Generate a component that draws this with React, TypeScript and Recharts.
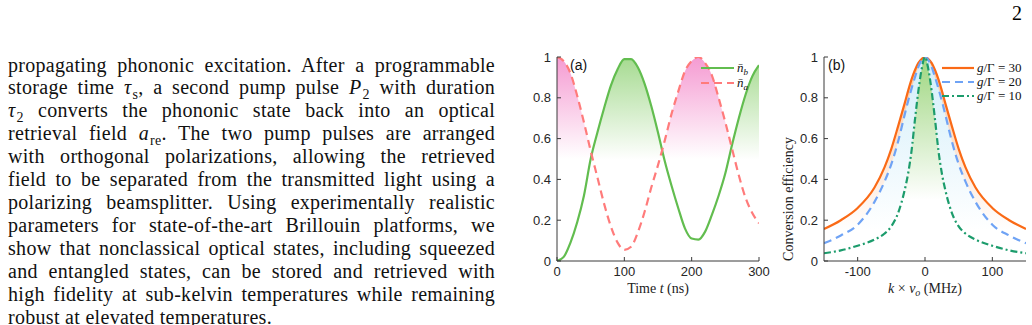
import React from "react";
import { ComposedChart, Area, Line, XAxis, YAxis, Legend } from "recharts";

// panel (a): populations vs time
const timeNs = [0, 10, 20, 30, 40, 50, 60, 70, 80, 90, 100, 110, 120, 130, 140, 150, 160, 170, 180, 190, 200, 210, 220, 230, 240, 250, 260, 270, 280, 290, 300];
const phononPop = [0, 0.02, 0.09, 0.19, 0.32, 0.5, 0.63, 0.75, 0.86, 0.94, 0.99, 0.99, 0.95, 0.87, 0.76, 0.63, 0.49, 0.37, 0.26, 0.16, 0.11, 0.105, 0.144, 0.226, 0.32, 0.43, 0.57, 0.7, 0.815, 0.905, 0.96];
const photonPop = [1, 0.98, 0.92, 0.81, 0.68, 0.54, 0.41, 0.28, 0.17, 0.09, 0.055, 0.07, 0.14, 0.24, 0.36, 0.47, 0.59, 0.72, 0.83, 0.93, 0.98, 1, 0.97, 0.91, 0.8, 0.68, 0.55, 0.42, 0.31, 0.235, 0.185];
const timeTicks = [0, 100, 200, 300];
const unitTicks = [0, 0.2, 0.4, 0.6, 0.8, 1];

// panel (b): conversion efficiency vs k*v_o
const detuning = [-150, -125, -100, -75, -60, -50, -40, -30, -25, -20, -15, -10, -5, 0, 5, 10, 15, 20, 25, 30, 40, 50, 60, 75, 100, 125, 150];
const eff30 = [0.157, 0.2, 0.26, 0.36, 0.46, 0.55, 0.66, 0.775, 0.835, 0.89, 0.935, 0.97, 0.99, 1, 0.99, 0.97, 0.935, 0.89, 0.835, 0.775, 0.66, 0.55, 0.46, 0.36, 0.26, 0.2, 0.157];
const eff20 = [0.087, 0.125, 0.178, 0.29, 0.39, 0.475, 0.585, 0.72, 0.785, 0.845, 0.9, 0.95, 0.985, 1, 0.985, 0.95, 0.9, 0.845, 0.785, 0.72, 0.585, 0.475, 0.39, 0.29, 0.178, 0.125, 0.087];
const eff10 = [0.038, 0.052, 0.075, 0.105, 0.135, 0.17, 0.235, 0.35, 0.43, 0.54, 0.69, 0.83, 0.94, 1, 0.94, 0.83, 0.69, 0.54, 0.43, 0.35, 0.235, 0.17, 0.135, 0.105, 0.075, 0.052, 0.038];
const detuningTicks = [-100, 0, 100];

const popData = timeNs.map((t, i) => ({ t, nb: phononPop[i], na: photonPop[i] }));
const effData = detuning.map((k, i) => ({ k, g30: eff30[i], g20: eff20[i], g10: eff10[i] }));

const SERIF = '"Liberation Serif", "Times New Roman", serif';
const SANS = '"Liberation Sans", Arial, sans-serif';
const AXIS = "#3a3a3a";
const tickStyle = { fill: "#262626", fontSize: 13, fontFamily: SANS };

function Sub({ children }: { children: React.ReactNode }) {
  return <span style={{ fontSize: "0.7em", position: "relative", top: "0.3em", marginLeft: 1 }}>{children}</span>;
}

const paragraph: React.ReactNode[] = [
  "propagating phononic excitation. After a programmable",
  <>storage time <i>τ</i><Sub>s</Sub>, a second pump pulse <i>P</i><Sub>2</Sub> with duration</>,
  <><i>τ</i><Sub>2</Sub> converts the phononic state back into an optical</>,
  <>retrieval field <i>a</i><Sub>re</Sub>. The two pump pulses are arranged</>,
  "with orthogonal polarizations, allowing the retrieved",
  "field to be separated from the transmitted light using a",
  "polarizing beamsplitter. Using experimentally realistic",
  "parameters for state-of-the-art Brillouin platforms, we",
  "show that nonclassical optical states, including squeezed",
  "and entangled states, can be stored and retrieved with",
  "high fidelity at sub-kelvin temperatures while remaining",
  "robust at elevated temperatures.",
];

type Row = { label: React.ReactNode; color: string; dash?: string };

function LegendRows({ rows, lineW, rowH }: { rows: Row[]; lineW: number; rowH: number }) {
  return (
    <div style={{ fontFamily: SERIF, fontSize: 13, color: "#111" }}>
      {rows.map((r, i) => (
        <div key={i} style={{ display: "flex", alignItems: "center", height: rowH, whiteSpace: "nowrap" }}>
          <svg width={lineW} height={8}>
            <line x1={0} y1={4} x2={lineW} y2={4} stroke={r.color} strokeWidth={2.2} strokeDasharray={r.dash} />
          </svg>
          <span style={{ marginLeft: 3 }}>{r.label}</span>
        </div>
      ))}
    </div>
  );
}

const nbar = (sub: string) => (
  <span style={{ fontStyle: "italic" }}>
    {"n\u0304"}
    <span style={{ fontSize: 9, position: "relative", top: 3 }}>{sub}</span>
  </span>
);

const ratio = (v: string) => (
  <span>
    <i>g</i>/Γ = {v}
  </span>
);

function boxAxes(xKey: string, xDomain: number[], xTicks: number[]) {
  return [
    <XAxis key="xb" xAxisId={0} dataKey={xKey} type="number" domain={xDomain} ticks={xTicks} allowDataOverflow height={36} stroke={AXIS} tick={tickStyle} tickSize={-4} tickMargin={10} />,
    <XAxis key="xt" xAxisId="top" orientation="top" type="number" domain={xDomain} ticks={xTicks} allowDataOverflow height={0} stroke={AXIS} tick={false} tickSize={-4} />,
    <YAxis key="yl" yAxisId={0} type="number" domain={[0, 1]} ticks={unitTicks} allowDataOverflow width={40} stroke={AXIS} tick={tickStyle} tickSize={-4} tickMargin={10} />,
    <YAxis key="yr" yAxisId="right" orientation="right" type="number" domain={[0, 1]} ticks={unitTicks} allowDataOverflow width={0} stroke={AXIS} tick={false} tickSize={-4} />,
  ];
}

function PanelA() {
  return (
    <ComposedChart width={260} height={270} data={popData} margin={{ top: 17, right: 11, bottom: 13, left: 7 }}>
      <defs>
        <linearGradient id="pinkFill" x1="0" y1="0" x2="0" y2="1">
          <stop offset="0" stopColor="#f59bd2" />
          <stop offset="0.5" stopColor="#ffffff" />
        </linearGradient>
        <linearGradient id="greenFill" x1="0" y1="0" x2="0" y2="1">
          <stop offset="0" stopColor="#a7db92" />
          <stop offset="0.5" stopColor="#ffffff" />
        </linearGradient>
      </defs>
      <Area type="monotone" dataKey="na" stroke="none" fill="url(#pinkFill)" fillOpacity={1} isAnimationActive={false} />
      <Area type="monotone" dataKey="nb" stroke="none" fill="url(#greenFill)" fillOpacity={1} isAnimationActive={false} />
      <Line type="monotone" dataKey="nb" stroke="#62bd4f" strokeWidth={2.2} dot={false} isAnimationActive={false} />
      <Line type="monotone" dataKey="na" stroke="#ff7b7b" strokeWidth={2.2} strokeDasharray="8 5" dot={false} isAnimationActive={false} />
      {boxAxes("t", [0, 300], timeTicks)}
      <Legend
        layout="vertical"
        verticalAlign="middle"
        align="center"
        wrapperStyle={{ left: 191, top: 20.5, width: "auto" }}
        content={() => (
          <LegendRows
            lineW={33}
            rowH={15}
            rows={[
              { label: nbar("b"), color: "#62bd4f" },
              { label: nbar("a"), color: "#ff7b7b", dash: "8 5" },
            ]}
          />
        )}
      />
    </ComposedChart>
  );
}

function PanelB() {
  return (
    <ComposedChart width={252} height={270} data={effData} margin={{ top: 17, right: 6, bottom: 13, left: 4 }}>
      <defs>
        <linearGradient id="orangeFill" x1="0" y1="0" x2="0" y2="1">
          <stop offset="0" stopColor="#fcc49c" />
          <stop offset="0.85" stopColor="#ffffff" />
        </linearGradient>
        <linearGradient id="blueFill" x1="0" y1="0" x2="0" y2="1">
          <stop offset="0" stopColor="#d2eefa" />
          <stop offset="0.85" stopColor="#ffffff" />
        </linearGradient>
        <linearGradient id="tealFill" x1="0" y1="0" x2="0" y2="1">
          <stop offset="0" stopColor="#9ed67f" />
          <stop offset="0.7" stopColor="#ffffff" />
        </linearGradient>
      </defs>
      <Area type="monotone" dataKey="g30" stroke="none" fill="url(#orangeFill)" fillOpacity={1} isAnimationActive={false} />
      <Area type="monotone" dataKey="g20" stroke="none" fill="url(#blueFill)" fillOpacity={1} isAnimationActive={false} />
      <Area type="monotone" dataKey="g10" stroke="none" fill="url(#tealFill)" fillOpacity={1} isAnimationActive={false} />
      <Line type="monotone" dataKey="g30" stroke="#fa6a16" strokeWidth={2.2} dot={false} isAnimationActive={false} />
      <Line type="monotone" dataKey="g20" stroke="#6fa3f5" strokeWidth={2.2} strokeDasharray="8 5" dot={false} isAnimationActive={false} />
      <Line type="monotone" dataKey="g10" stroke="#1c9c6c" strokeWidth={2.2} strokeDasharray="7 3 2 3" dot={false} isAnimationActive={false} />
      {boxAxes("k", [-150, 150], detuningTicks)}
      <Legend
        layout="vertical"
        verticalAlign="middle"
        align="center"
        wrapperStyle={{ left: 162, top: 20.7, width: "auto" }}
        content={() => (
          <LegendRows
            lineW={32}
            rowH={14}
            rows={[
              { label: ratio("30"), color: "#fa6a16" },
              { label: ratio("20"), color: "#6fa3f5", dash: "8 5" },
              { label: ratio("10"), color: "#1c9c6c", dash: "7 3 2 3" },
            ]}
          />
        )}
      />
    </ComposedChart>
  );
}

function PanelTag({ text, left }: { text: string; left: number }) {
  return (
    <div style={{ position: "absolute", left, top: 57, fontFamily: SANS, fontSize: 14, color: "#111" }}>{text}</div>
  );
}

export default function App() {
  return (
    <div style={{ position: "absolute", left: 0, top: 0, width: 1032, height: 325, overflow: "hidden", background: "#fff" }}>
      <div style={{ position: "absolute", left: 1012, top: 2, fontFamily: SERIF, fontSize: 20, lineHeight: "22.96px" }}>2</div>
      <div style={{ position: "absolute", left: 8, top: 53.5, width: 487, fontFamily: SERIF, fontSize: 20, letterSpacing: 0.3, color: "#111" }}>
        {paragraph.map((line, i) => (
          <div
            key={i}
            style={{
              height: 22.96,
              lineHeight: "22.96px",
              whiteSpace: "nowrap",
              textAlign: "justify",
              textAlignLast: i === paragraph.length - 1 ? "left" : "justify",
            }}
          >
            {line}
          </div>
        ))}
      </div>
      <div style={{ position: "absolute", left: 510, top: 40 }}>
        <PanelA />
        <svg width={260} height={270} style={{ position: "absolute", left: 0, top: 0, pointerEvents: "none" }}>
          <text x={148} y={253} textAnchor="middle" fontFamily={SERIF} fontSize={14} fill="#222">
            Time <tspan fontStyle="italic">t</tspan> (ns)
          </text>
        </svg>
      </div>
      <div style={{ position: "absolute", left: 780, top: 40 }}>
        <PanelB />
        <svg width={252} height={270} style={{ position: "absolute", left: 0, top: 0, pointerEvents: "none" }}>
          <text x={145} y={253} textAnchor="middle" fontFamily={SERIF} fontSize={14} fill="#222">
            <tspan fontStyle="italic">k</tspan> × <tspan fontStyle="italic">v</tspan>
            <tspan fontStyle="italic" fontSize={10} dy={3}>o</tspan>
            <tspan dy={-3}> (MHz)</tspan>
          </text>
          <text x={8} y={159} transform="rotate(-90 8 159)" textAnchor="middle" dominantBaseline="central" fontFamily={SERIF} fontSize={14} fill="#222">
            Conversion efficiency
          </text>
        </svg>
      </div>
      <PanelTag text="(a)" left={570} />
      <PanelTag text="(b)" left={828} />
    </div>
  );
}
